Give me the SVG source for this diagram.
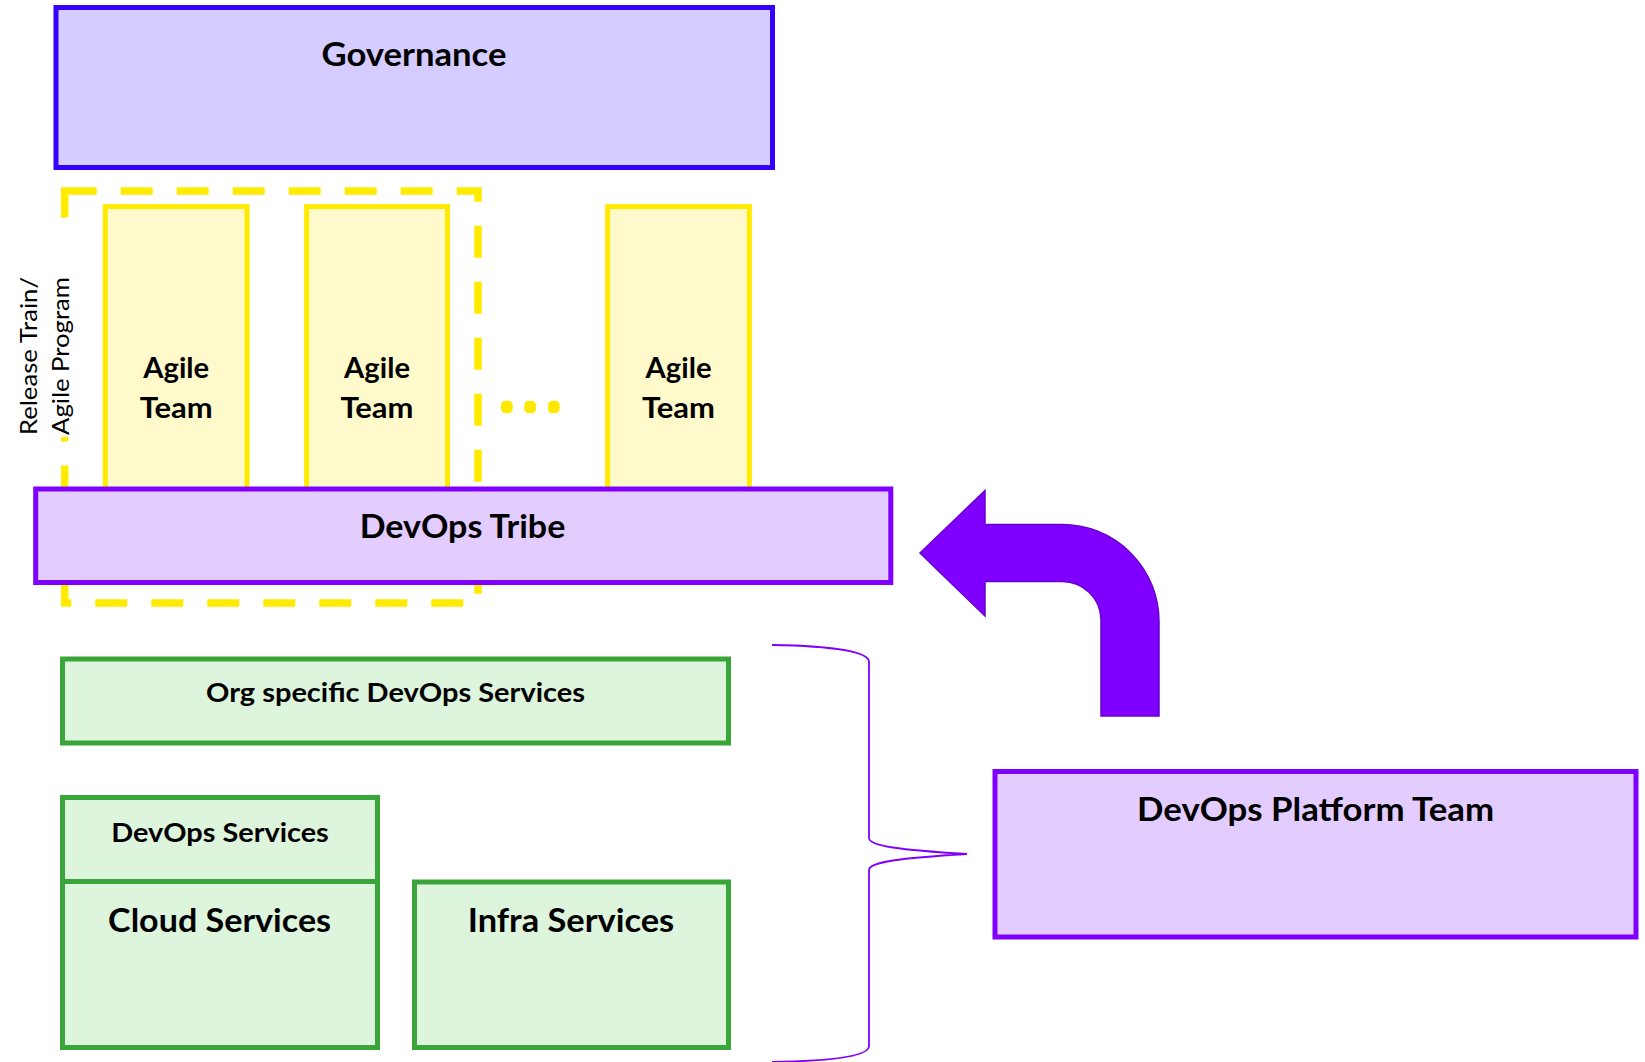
<svg xmlns="http://www.w3.org/2000/svg" width="1645" height="1062" viewBox="0 0 1645 1062">
<style>
.t{font-family:Lato,"Open Sans","Liberation Sans",sans-serif;font-weight:700;fill:#000;text-anchor:middle}
.gov{fill:#d5ccff;stroke:#3300ff;stroke-width:5}
.purple{fill:#e3ccff;stroke:#8000ff;stroke-width:5}
.agile{fill:#fffacc;stroke:#ffea00;stroke-width:5}
.green{fill:#ddf4dd;stroke:#3aa63a;stroke-width:5}
.dot{fill:#ffe800}
</style>
<rect width="1645" height="1062" fill="#fff"/>
<g id="governance">
<rect class="gov" x="56" y="7.5" width="716.5" height="160"/>
<text class="t" x="414" y="66" font-size="33" textLength="185" lengthAdjust="spacingAndGlyphs">Governance</text>
</g>
<g id="release-train">
<rect x="64.7" y="191" width="413.3" height="412" fill="none" stroke="#ffea00" stroke-width="7.5" stroke-dasharray="32 24"/>
<rect x="14" y="224" width="66" height="213" fill="#fff"/>
<text font-family="Lato,'Open Sans','Liberation Sans',sans-serif" font-size="23" text-anchor="middle" transform="translate(37.3,356) rotate(-90)" textLength="158" lengthAdjust="spacingAndGlyphs">Release Train/</text>
<text font-family="Lato,'Open Sans','Liberation Sans',sans-serif" font-size="23" text-anchor="middle" transform="translate(69,356) rotate(-90)" textLength="158" lengthAdjust="spacingAndGlyphs">Agile Program</text>
</g>
<g id="agile-team-1">
<rect class="agile" x="105.3" y="206.6" width="141.7" height="290"/>
<text class="t" x="176.2" y="378" font-size="28" textLength="66" lengthAdjust="spacingAndGlyphs">Agile</text>
<text class="t" x="176.2" y="417.5" font-size="28" textLength="73" lengthAdjust="spacingAndGlyphs">Team</text>
</g>
<g id="agile-team-2">
<rect class="agile" x="306.6" y="206.6" width="140.9" height="290"/>
<text class="t" x="377" y="378" font-size="28" textLength="66" lengthAdjust="spacingAndGlyphs">Agile</text>
<text class="t" x="377" y="417.5" font-size="28" textLength="73" lengthAdjust="spacingAndGlyphs">Team</text>
</g>
<g id="ellipsis">
<rect class="dot" x="501" y="400.7" width="11.7" height="12.6" rx="4.5"/>
<rect class="dot" x="524.3" y="400.7" width="11.7" height="12.6" rx="4.5"/>
<rect class="dot" x="548" y="400.7" width="11.7" height="12.6" rx="4.5"/>
</g>
<g id="agile-team-3">
<rect class="agile" x="607.6" y="206.6" width="141.8" height="290"/>
<text class="t" x="678.5" y="378" font-size="28" textLength="66" lengthAdjust="spacingAndGlyphs">Agile</text>
<text class="t" x="678.5" y="417.5" font-size="28" textLength="73" lengthAdjust="spacingAndGlyphs">Team</text>
</g>
<g id="devops-tribe">
<rect class="purple" x="35.7" y="489" width="855.1" height="93.5"/>
<text class="t" x="462.5" y="538" font-size="33" textLength="205.6" lengthAdjust="spacingAndGlyphs">DevOps Tribe</text>
</g>
<g id="org-specific">
<rect class="green" x="62.5" y="659" width="666" height="84"/>
<text class="t" x="395.5" y="701.7" font-size="26" textLength="379" lengthAdjust="spacingAndGlyphs">Org specific DevOps Services</text>
</g>
<g id="devops-services">
<rect class="green" x="62.5" y="797.5" width="315" height="84"/>
<text class="t" x="220" y="841.7" font-size="26.5" textLength="217.6" lengthAdjust="spacingAndGlyphs">DevOps Services</text>
</g>
<g id="cloud-services">
<rect class="green" x="62.5" y="881.5" width="315" height="166"/>
<text class="t" x="219.6" y="931.7" font-size="33" textLength="223" lengthAdjust="spacingAndGlyphs">Cloud Services</text>
</g>
<g id="infra-services">
<rect class="green" x="414.5" y="882" width="314" height="165.5"/>
<text class="t" x="571" y="931.7" font-size="33" textLength="206.5" lengthAdjust="spacingAndGlyphs">Infra Services</text>
</g>
<g id="devops-platform-team">
<rect class="purple" x="995" y="771.5" width="641" height="165.5"/>
<text class="t" x="1315.6" y="821" font-size="33" textLength="357" lengthAdjust="spacingAndGlyphs">DevOps Platform Team</text>
</g>
<g id="connectors">
<path d="M 920 553 L 985 490.5 L 985 524.5 L 1062 524.5 A 97 97 0 0 1 1159 621.5 L 1159 716 L 1101 716 L 1101 620 A 39 38.5 0 0 0 1062 581.5 L 985 581.5 L 985 616 Z" fill="#7f00ff" stroke="#6a00d0" stroke-width="1.5" stroke-linejoin="miter"/>
<path d="M 772 645 C 835 646 869 652 869 662 L 869 838 C 869 846 900 850 967 854 C 900 858 869 862 869 870 L 869 1046 C 869 1056 835 1061 772 1062" fill="none" stroke="#8000ff" stroke-width="1.8"/>
</g>
</svg>
